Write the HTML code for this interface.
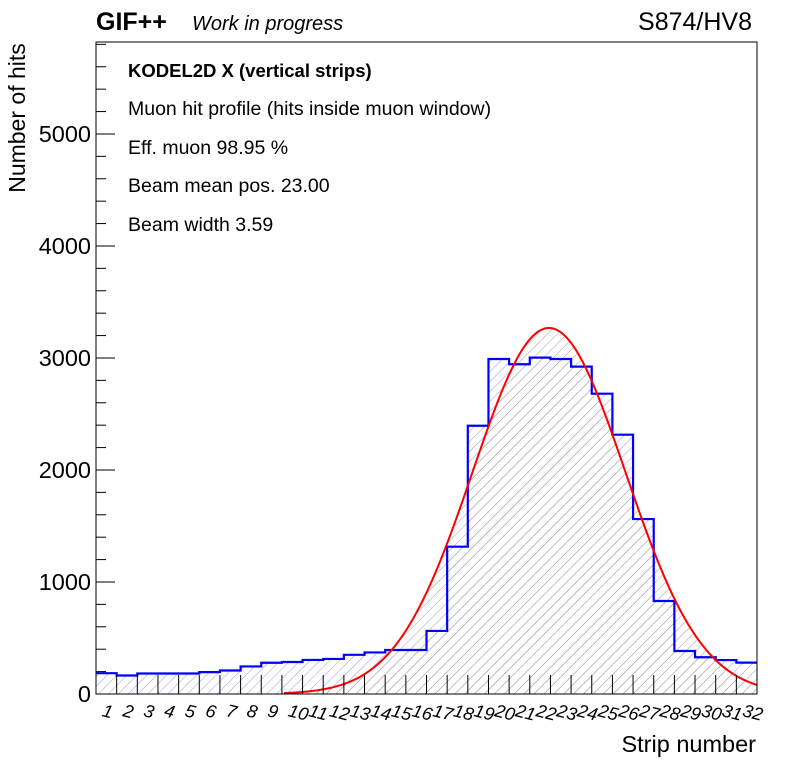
<!DOCTYPE html>
<html><head><meta charset="utf-8"><style>
html,body{margin:0;padding:0;background:#fff;}
svg{display:block;font-family:"Liberation Sans",Arial,sans-serif;}
</style></head><body>
<svg id="chart" width="796" height="772" viewBox="0 0 796 772" xmlns="http://www.w3.org/2000/svg">
<defs>
<pattern id="hatchBlue" patternUnits="userSpaceOnUse" width="7" height="7" patternTransform="rotate(45)">
<line x1="0" y1="0" x2="0" y2="7" stroke="#9a9af0" stroke-width="1"/>
</pattern>
<pattern id="hatchGray" patternUnits="userSpaceOnUse" width="7" height="7" patternTransform="rotate(45)">
<line x1="0" y1="0" x2="0" y2="7" stroke="#a0a0a0" stroke-width="1"/>
</pattern>
<clipPath id="plotClip"><rect x="96" y="42" width="661" height="652"/></clipPath>
</defs>
<g id="hist" clip-path="url(#plotClip)"></g>
<g id="fit" clip-path="url(#plotClip)"></g>
<g id="axes"></g>
<rect x="96" y="42" width="661" height="652" fill="none" stroke="#000" stroke-width="1"/>
<text x="96" y="30" font-size="25" font-weight="bold">GIF++</text>
<text x="192" y="30" font-size="20" font-style="italic">Work in progress</text>
<text x="752" y="30" font-size="25" text-anchor="end">S874/HV8</text>
<g font-size="19.5">
<text x="128" y="77" font-weight="bold" font-size="18.5">KODEL2D X (vertical strips)</text>
<text x="128" y="115">Muon hit profile (hits inside muon window)</text>
<text x="128" y="154">Eff. muon 98.95 %</text>
<text x="128" y="192">Beam mean pos. 23.00</text>
<text x="128" y="231">Beam width 3.59</text>
</g>
<text transform="translate(25,118) rotate(-90)" font-size="23" text-anchor="middle">Number of hits</text>
<text x="756" y="752" font-size="23.5" text-anchor="end">Strip number</text>
</svg>
<script>
const strips = [1,2,3,4,5,6,7,8,9,10,11,12,13,14,15,16,17,18,19,20,21,22,23,24,25,26,27,28,29,30,31,32];
const hits = [186,165,183,183,183,195,210,246,279,286,304,313,350,371,393,393,563,1315,2395,2991,2944,3003,2991,2923,2681,2315,1562,830,384,328,303,280];
const yTicks = [0,1000,2000,3000,4000,5000];
const fitAmplitude = 3268;
const fitMean = 22.43;
const fitSigma = 3.7;
const fitRange = [9.6, 32.5];

const NS = "http://www.w3.org/2000/svg";
const X0 = 96, X1 = 757, Y0 = 694, Y1 = 42;
const xMin = 0.5, xMax = 32.5, yMin = 0, yMax = 5821;
function xs(v){ return X0 + (v - xMin) / (xMax - xMin) * (X1 - X0); }
function ys(v){ return Y0 - (v - yMin) / (yMax - yMin) * (Y0 - Y1); }
function mk(tag, attrs, parent){ const e = document.createElementNS(NS, tag); for (const k in attrs) e.setAttribute(k, attrs[k]); parent.appendChild(e); return e; }

const hist = document.getElementById('hist');
let d = "M" + xs(strips[0]-0.5) + "," + ys(0);
let outline = "";
strips.forEach((s, i) => {
  const xl = xs(s-0.5), xr = xs(s+0.5), y = ys(hits[i]);
  d += " L" + xl + "," + y + " L" + xr + "," + y;
  outline += (i === 0 ? "M" : " L") + xl + "," + y + " L" + xr + "," + y;
});
d += " L" + xs(strips[strips.length-1]+0.5) + "," + ys(0) + " Z";
const hf = mk('path', {d: d, fill: 'url(#hatchBlue)', stroke: 'none'}, hist);



const fit = document.getElementById('fit');
function gauss(x){ return fitAmplitude * Math.exp(-0.5 * Math.pow((x - fitMean) / fitSigma, 2)); }
let fd = "", area = "M" + xs(fitRange[0]) + "," + ys(0);
const N = 300;
for (let k = 0; k <= N; k++) {
  const x = fitRange[0] + (fitRange[1] - fitRange[0]) * k / N;
  fd += (k === 0 ? "M" : " L") + xs(x).toFixed(2) + "," + ys(gauss(x)).toFixed(2);
  area += " L" + xs(x).toFixed(2) + "," + ys(gauss(x)).toFixed(2);
}
area += " L" + xs(fitRange[1]) + "," + ys(0) + " Z";
const fa = mk('path', {d: area, fill: 'url(#hatchGray)', stroke: 'none'}, hist);


const ho = mk('path', {d: outline, fill: 'none', stroke: '#0000ff', 'stroke-width': 2.2}, hist);


const fl = mk('path', {d: fd, fill: 'none', stroke: '#ff0000', 'stroke-width': 2}, fit);



const axes = document.getElementById('axes');
for (let v = 0; v <= yMax; v += 200) {
  const major = v % 1000 === 0;
  const t = mk('line', {x1: X0, x2: X0 + (major ? 19 : 10), y1: ys(v), y2: ys(v), stroke: '#000', 'stroke-width': 1}, axes);
  
  
}
yTicks.forEach(v => {
  const t = mk('text', {x: 91, y: ys(v) + 8, 'font-size': 23.5, 'text-anchor': 'end'}, axes);
  t.textContent = String(v);
  
  
});
strips.forEach((s, i) => {
  if (i > 0) {
    const t = mk('line', {x1: xs(s-0.5), x2: xs(s-0.5), y1: Y0, y2: Y0 - 19, stroke: '#000', 'stroke-width': 1}, axes);
    
    
  }
  const cx = xs(s) - 5;
  const lb = mk('text', {x: cx, y: 716, 'font-size': 18, 'font-style': 'italic', transform: 'rotate(14 ' + cx + ' 716)'}, axes);
  lb.textContent = String(s);
  
  
});
</script>
</body></html>
